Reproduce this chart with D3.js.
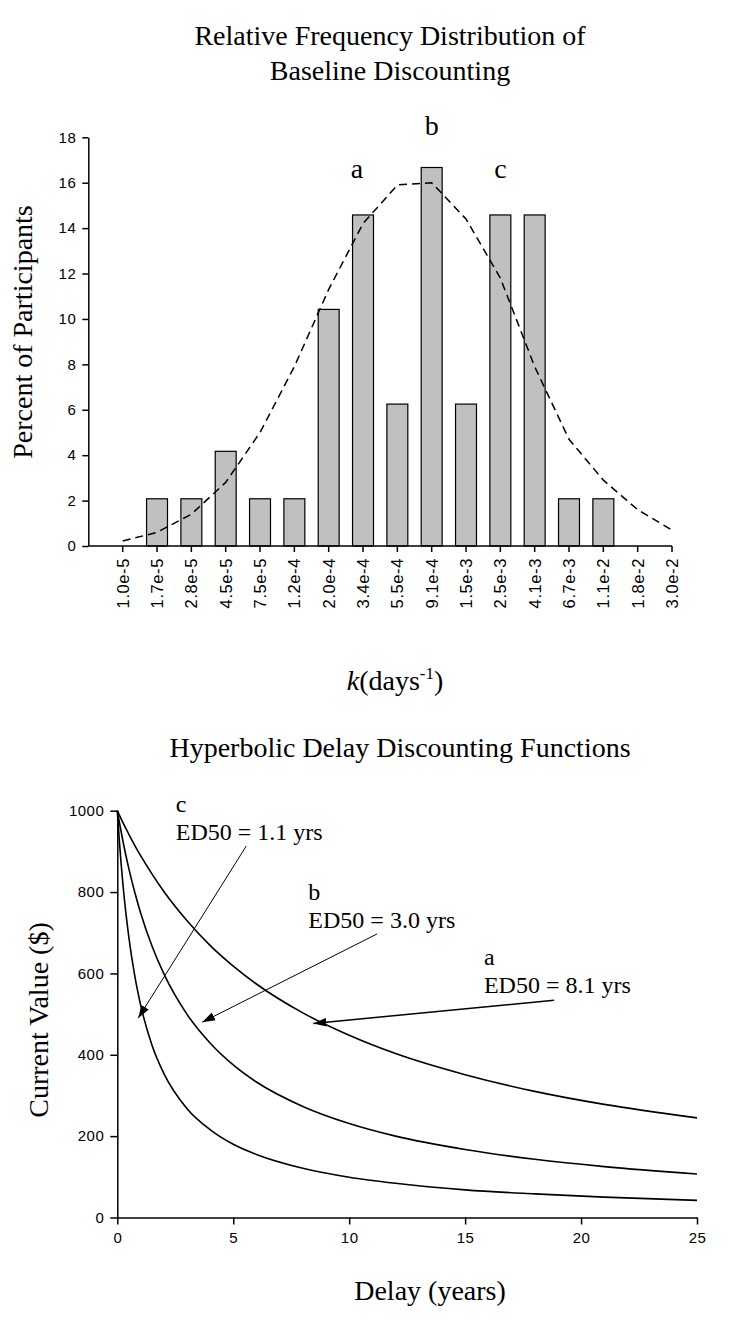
<!DOCTYPE html>
<html>
<head>
<meta charset="utf-8">
<script src="https://cdn.jsdelivr.net/npm/d3@7"></script>
<style>
  html, body { margin: 0; padding: 0; background: #fff; }
  svg { display: block; }
  .serif { font-family: "Liberation Serif", "Times New Roman", serif; fill: #000; }
  .sans { font-family: "Liberation Sans", Arial, sans-serif; fill: #000; }
</style>
</head>
<body>
<svg id="chart" width="750" height="1324"></svg>
<script>
// ---------- Data: top chart (relative frequency distribution) ----------
const kLabels = ["1.0e-5","1.7e-5","2.8e-5","4.5e-5","7.5e-5","1.2e-4","2.0e-4","3.4e-4","5.5e-4",
                 "9.1e-4","1.5e-3","2.5e-3","4.1e-3","6.7e-3","1.1e-2","1.8e-2","3.0e-2"];
const percentParticipants = [0, 2.08, 2.08, 4.17, 2.08, 2.08, 10.42, 14.58, 6.25,
                             16.67, 6.25, 14.58, 14.58, 2.08, 2.08, 0, 0];
const fittedCurve = [0.22, 0.6, 1.4, 2.8, 5.0, 7.9, 11.3, 14.2, 15.9,
                     16.0, 14.4, 11.8, 7.9, 4.7, 2.9, 1.6, 0.7];
const yTicksTop = [0, 2, 4, 6, 8, 10, 12, 14, 16, 18];
const groupLabels = ["a", "b", "c"];
const groupLabelK = ["3.4e-4", "9.1e-4", "2.5e-3"];
const groupLabelValue = [16.2, 18.1, 16.2];

// ---------- Data: bottom chart (hyperbolic discounting functions) ----------
const delays = [0, 0.1, 0.25, 0.5, 0.75, 1, 1.5, 2, 3, 4, 5, 6, 8, 10, 12, 15, 18, 21, 25];
const valueA = [1000, 988, 970, 942, 915, 890, 844, 802, 730, 669, 618, 574, 503, 448, 403, 351, 310, 278, 245];
const valueB = [1000, 968, 923, 857, 800, 750, 667, 600, 500, 429, 375, 333, 273, 231, 200, 167, 143, 125, 107];
const valueC = [1000, 917, 815, 688, 595, 524, 423, 355, 268, 216, 180, 155, 121, 99, 84, 68, 58, 50, 42];
const xTicksBottom = [0, 5, 10, 15, 20, 25];
const yTicksBottom = [0, 200, 400, 600, 800, 1000];
const curveNames = ["a", "b", "c"];
const ed50Labels = ["ED50 = 8.1 yrs", "ED50 = 3.0 yrs", "ED50 = 1.1 yrs"];
// annotation anchors (delay, value) for label, arrow start and arrow tip
const labelAt = [[15.81, 621], [8.24, 780], [2.52, 997]];
const arrowFrom = [[18.84, 534], [11.2, 697], [5.56, 913]];
const arrowTo = [[8.45, 477], [3.66, 480], [0.9, 490]];

// ---------- Drawing ----------
const svg = d3.select("#chart");
const SANS = "Liberation Sans, Arial, sans-serif";

// === Top chart ===
const xTop = d3.scalePoint().domain(kLabels).range([122.7, 672]);
const yTop = d3.scaleLinear().domain([0, 18]).range([546, 137.3]);
const topLeft = 88.3;
const barW = xTop.step() * 0.61;

// titles
svg.append("text").attr("class", "serif").attr("x", 390).attr("y", 45)
  .attr("text-anchor", "middle").attr("font-size", 28).text("Relative Frequency Distribution of");
svg.append("text").attr("class", "serif").attr("x", 390).attr("y", 80)
  .attr("text-anchor", "middle").attr("font-size", 28).text("Baseline Discounting");

// bars
svg.append("g").selectAll("rect")
  .data(kLabels.map((k, i) => ({k, v: percentParticipants[i]})).filter(d => d.v > 0))
  .join("rect")
  .attr("x", d => xTop(d.k) - barW / 2)
  .attr("y", d => yTop(d.v))
  .attr("width", barW)
  .attr("height", d => yTop(0) - yTop(d.v))
  .attr("fill", "#c0c0c0")
  .attr("stroke", "#000")
  .attr("stroke-width", 1.2);

// dashed fitted curve
svg.append("path")
  .datum(kLabels.map((k, i) => [xTop(k), yTop(fittedCurve[i])]))
  .attr("d", d3.line())
  .attr("fill", "none")
  .attr("stroke", "#000")
  .attr("stroke-width", 1.5)
  .attr("stroke-dasharray", "8,5");

// y axis (top)
const yAxisTop = svg.append("g").attr("transform", `translate(${topLeft},0)`)
  .call(d3.axisLeft(yTop).tickValues(yTicksTop).tickSize(6).tickPadding(6).tickSizeOuter(0));
yAxisTop.selectAll("text").attr("font-size", 15).attr("font-family", SANS)
  .attr("fill", "#000").attr("letter-spacing", 0.5);
yAxisTop.select(".domain").attr("stroke-width", 1.5);
yAxisTop.selectAll(".tick line").attr("stroke-width", 1.5);

// x axis (top)
const gxTop = svg.append("g");
gxTop.append("line").attr("x1", topLeft).attr("x2", xTop(kLabels[kLabels.length - 1]))
  .attr("y1", yTop(0)).attr("y2", yTop(0)).attr("stroke", "#000").attr("stroke-width", 1.5);
gxTop.selectAll("line.tick").data(kLabels).join("line").attr("class", "tick")
  .attr("x1", d => xTop(d)).attr("x2", d => xTop(d))
  .attr("y1", yTop(0)).attr("y2", yTop(0) + 6)
  .attr("stroke", "#000").attr("stroke-width", 1.5);
gxTop.selectAll("text").data(kLabels).join("text").attr("class", "sans")
  .attr("font-size", 16.5)
  .attr("letter-spacing", 0.6)
  .attr("text-anchor", "end")
  .attr("dominant-baseline", "central")
  .attr("transform", d => `translate(${xTop(d)},${yTop(0) + 12}) rotate(-90)`)
  .text(d => d);

// group letters a, b, c
svg.append("g").selectAll("text").data(groupLabels).join("text").attr("class", "serif")
  .attr("font-size", 28).attr("text-anchor", "middle")
  .attr("x", (d, i) => xTop(groupLabelK[i]) - (i === 0 ? 6 : 0))
  .attr("y", (d, i) => yTop(groupLabelValue[i]))
  .text(d => d);

// y label top
svg.append("text").attr("class", "serif").attr("font-size", 28).attr("text-anchor", "middle")
  .attr("transform", "translate(32,332) rotate(-90)").text("Percent of Participants");

// x label top: k(days^-1)
const kLab = svg.append("text").attr("class", "serif").attr("font-size", 28)
  .attr("text-anchor", "middle").attr("x", 395).attr("y", 690);
kLab.append("tspan").attr("font-style", "italic").text("k");
kLab.append("tspan").text("(days");
kLab.append("tspan").attr("font-size", 17).attr("dy", -11).text("-1");
kLab.append("tspan").attr("dy", 11).text(")");

// === Bottom chart ===
const xBot = d3.scaleLinear().domain([0, 25]).range([117.3, 697]);
const yBot = d3.scaleLinear().domain([0, 1000]).range([1217.5, 810.7]);

svg.append("text").attr("class", "serif").attr("x", 400).attr("y", 757)
  .attr("text-anchor", "middle").attr("font-size", 28).text("Hyperbolic Delay Discounting Functions");

// curves
const lineGen = d3.line().x(d => xBot(d[0])).y(d => yBot(d[1])).curve(d3.curveMonotoneX);
[valueA, valueB, valueC].forEach(vals => {
  svg.append("path")
    .datum(delays.map((t, i) => [t, vals[i]]))
    .attr("d", lineGen)
    .attr("fill", "none")
    .attr("stroke", "#000")
    .attr("stroke-width", 1.6);
});

// axes
const yAxisBot = svg.append("g").attr("transform", `translate(${xBot(0)},0)`)
  .call(d3.axisLeft(yBot).tickValues(yTicksBottom).tickFormat(d3.format("d"))
    .tickSize(7).tickPadding(6).tickSizeOuter(0));
const xAxisBot = svg.append("g").attr("transform", `translate(0,${yBot(0)})`)
  .call(d3.axisBottom(xBot).tickValues(xTicksBottom).tickFormat(d3.format("d"))
    .tickSize(7).tickPadding(8).tickSizeOuter(0));
[yAxisBot, xAxisBot].forEach(g => {
  g.selectAll("text").attr("font-size", 15).attr("font-family", SANS)
    .attr("fill", "#000").attr("letter-spacing", 0.5);
  g.select(".domain").attr("stroke-width", 1.5);
  g.selectAll(".tick line").attr("stroke-width", 1.5);
});

// arrows
svg.append("defs").append("marker")
  .attr("id", "arrowhead").attr("viewBox", "0 0 12 8")
  .attr("refX", 12).attr("refY", 4)
  .attr("markerWidth", 13).attr("markerHeight", 9)
  .attr("markerUnits", "userSpaceOnUse")
  .attr("orient", "auto")
  .append("path").attr("d", "M0,0 L12,4 L0,8 Z").attr("fill", "#000");

svg.append("g").selectAll("line").data(curveNames).join("line")
  .attr("x1", (d, i) => xBot(arrowFrom[i][0])).attr("y1", (d, i) => yBot(arrowFrom[i][1]))
  .attr("x2", (d, i) => xBot(arrowTo[i][0])).attr("y2", (d, i) => yBot(arrowTo[i][1]))
  .attr("stroke", "#000")
  .attr("stroke-width", (d, i) => i === 0 ? 1.5 : 1)
  .attr("marker-end", "url(#arrowhead)");

// labels
curveNames.forEach((name, i) => {
  const x = xBot(labelAt[i][0]);
  const y = yBot(labelAt[i][1]);
  svg.append("text").attr("class", "serif").attr("font-size", 24).attr("x", x).attr("y", y).text(name);
  svg.append("text").attr("class", "serif").attr("font-size", 24).attr("x", x).attr("y", y + 28).text(ed50Labels[i]);
});

// axis labels bottom
svg.append("text").attr("class", "serif").attr("font-size", 28).attr("text-anchor", "middle")
  .attr("transform", "translate(48,1020) rotate(-90)").text("Current Value ($)");
svg.append("text").attr("class", "serif").attr("font-size", 28).attr("text-anchor", "middle")
  .attr("x", 430).attr("y", 1300).text("Delay (years)");
</script>
</body>
</html>
